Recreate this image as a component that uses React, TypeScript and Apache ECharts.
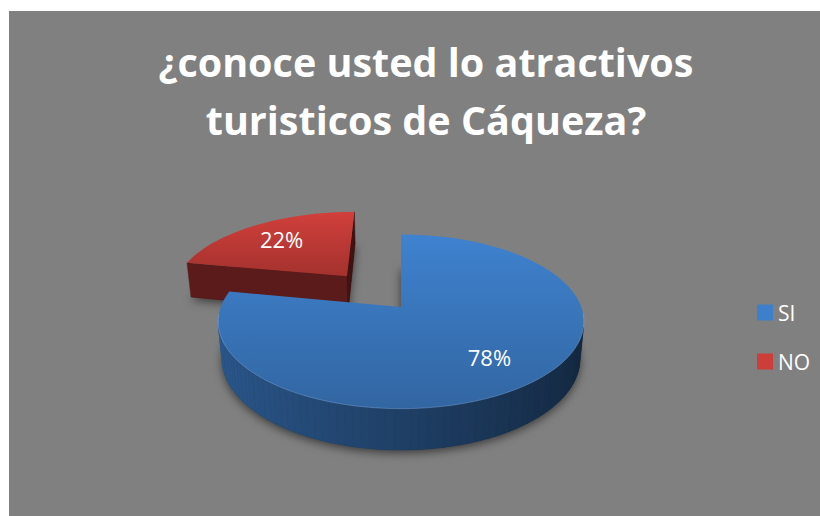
import { useEffect, useRef } from 'react';
import * as echarts from 'echarts';

const categories = ['SI', 'NO'];
const values = [78, 22];
const colors = ['#3E7FCB', '#CD3E3A'];
const explodeFrac = [0, 0.5];
const titleLines = ['¿conoce usted lo atractivos', 'turisticos de Cáqueza?'];

const FONT = '"Open Sans", "Noto Sans", sans-serif';

// 3D projection constants
const CX = 401;
const CY = 307;
const F = 950;
const D = 5.27;
const TILT = (28 * Math.PI) / 180;
const H = 0.235;
const S = Math.sin(TILT);
const C = Math.cos(TILT);

function proj(x: number, z: number, h: number): number[] {
  const v = z * S - h * C;
  const w = D - z * C - h * S;
  return [CX + (F * x) / w, CY + (F * v) / w];
}

function hexToRgb(hex: string): number[] {
  const n = parseInt(hex.slice(1), 16);
  return [(n >> 16) & 255, (n >> 8) & 255, n & 255];
}

function shade(hex: string, f: number): string {
  const [r, g, b] = hexToRgb(hex);
  const c = (v: number) => Math.max(0, Math.min(255, Math.round(v * f)));
  return `rgb(${c(r)},${c(g)},${c(b)})`;
}

function area(pts: number[][]): number {
  let s = 0;
  for (let i = 0; i < pts.length; i++) {
    const a = pts[i];
    const b = pts[(i + 1) % pts.length];
    s += a[0] * b[1] - b[0] * a[1];
  }
  return s;
}

const total = values.reduce((a, b) => a + b, 0);
const starts = values.map((_, i) => values.slice(0, i).reduce((a, b) => a + b, 0));

function makeRenderItem(idx: number) {
  return (params: any, api: any) => {
    const v = api.value(0);
    const st = api.value(1);
    const tot = api.value(2);
    const base = colors[idx];
    const t0 = (st / tot) * Math.PI * 2;
    const t1 = ((st + v) / tot) * Math.PI * 2;
    const mid = (t0 + t1) / 2;
    const e = explodeFrac[idx];
    const ex = Math.sin(mid) * e;
    const ez = -Math.cos(mid) * e;
    const pt = (t: number, r: number, h: number) =>
      proj(ex + r * Math.sin(t), ez - r * Math.cos(t), h);
    const N = Math.max(8, Math.ceil(((t1 - t0) / (Math.PI * 2)) * 160));
    const top: number[][] = [];
    const bot: number[][] = [];
    const ang: number[] = [];
    for (let k = 0; k <= N; k++) {
      const t = t0 + ((t1 - t0) * k) / N;
      ang.push(t);
      top.push(pt(t, 1, 0));
      bot.push(pt(t, 1, -H));
    }
    const ct = pt(0, 0, 0);
    const cb = pt(0, 0, -H);
    const children: any[] = [];
    children.push({
      type: 'polygon',
      shape: { points: [cb, ...bot] },
      style: {
        fill: shade(base, 0.3),
        shadowBlur: 10,
        shadowColor: 'rgba(0,0,0,0.55)',
        shadowOffsetY: 3,
      },
      z2: 1,
    });
    const sFace = [ct, top[0], bot[0], cb];
    if (area(sFace) < 0) {
      const nx = -Math.cos(t0);
      const col = shade(base, 0.42 - 0.12 * nx);
      children.push({
        type: 'polygon',
        shape: { points: sFace },
        style: { fill: col, stroke: col, lineWidth: 0.5 },
        z2: 2,
      });
    }
    const eFace = [ct, cb, bot[N], top[N]];
    if (area(eFace) < 0) {
      const nx = Math.cos(t1);
      const col = shade(base, 0.42 - 0.12 * nx);
      children.push({
        type: 'polygon',
        shape: { points: eFace },
        style: { fill: col, stroke: col, lineWidth: 0.5 },
        z2: 2,
      });
    }
    for (let k = 0; k < N; k++) {
      const q = [top[k], top[k + 1], bot[k + 1], bot[k]];
      if (area(q) < 0) {
        const tm = (ang[k] + ang[k + 1]) / 2;
        const col = shade(base, 0.5 - 0.19 * Math.sin(tm));
        children.push({
          type: 'polygon',
          shape: { points: q },
          style: { fill: col, stroke: col, lineWidth: 0.6 },
          z2: 3,
        });
      }
    }
    children.push({
      type: 'polygon',
      shape: { points: [ct, ...top] },
      style: {
        fill: new echarts.graphic.LinearGradient(0, 0, 0, 1, [
          { offset: 0, color: shade(base, 1.02) },
          { offset: 1, color: shade(base, 0.8) },
        ]),
      },
      z2: 4,
    });
    const rim: number[][] = [];
    for (let k = 0; k <= N; k++) {
      if (-Math.cos(ang[k]) > 0.05) rim.push(top[k]);
    }
    if (rim.length > 1) {
      children.push({
        type: 'polyline',
        shape: { points: rim },
        style: { stroke: 'rgba(150,190,240,0.35)', lineWidth: 1, fill: null },
        z2: 5,
      });
    }
    const lr = 0.7;
    const lp = pt(mid, lr, 0);
    children.push({
      type: 'text',
      x: lp[0],
      y: lp[1],
      style: {
        text: `${Math.round((v / tot) * 100)}%`,
        fill: '#ffffff',
        font: `22px ${FONT}`,
        align: 'center',
        verticalAlign: 'middle',
      },
      z2: 6,
    });
    return { type: 'group', children };
  };
}

export default function App() {
  const ref = useRef<HTMLDivElement>(null);
  useEffect(() => {
    if (!ref.current) return;
    const chart = echarts.init(ref.current, undefined, { renderer: 'svg' });
    const option: any = {
      animation: false,
      color: colors,
      backgroundColor: 'transparent',
      graphic: [
        {
          type: 'rect',
          silent: true,
          z: -10,
          shape: { x: 9, y: 11, width: 811, height: 505 },
          style: { fill: '#808080' },
        },
      ],
      title: {
        text: titleLines.join('\n'),
        left: 421,
        top: 28,
        textAlign: 'center',
        textStyle: {
          color: '#ffffff',
          fontSize: 39.5,
          fontWeight: 'bold',
          fontFamily: FONT,
          lineHeight: 58,
        },
      },
      legend: {
        orient: 'vertical',
        left: 752,
        top: 297,
        itemWidth: 16,
        itemHeight: 16,
        itemGap: 28,
        icon: 'rect',
        selectedMode: false,
        data: categories,
        textStyle: { color: '#ffffff', fontSize: 21, fontFamily: FONT },
      },
      series: categories.map((name, i) => ({
        type: 'custom',
        name,
        coordinateSystem: 'none',
        z: i === 0 ? 3 : 2,
        itemStyle: { color: colors[i] },
        renderItem: makeRenderItem(i),
        data: [[values[i], starts[i], total]],
      })),
    };
    chart.setOption(option);
    return () => chart.dispose();
  }, []);
  return (
    <div
      ref={ref}
      style={{ position: 'absolute', left: 0, top: 0, width: 820, height: 516 }}
    />
  );
}
